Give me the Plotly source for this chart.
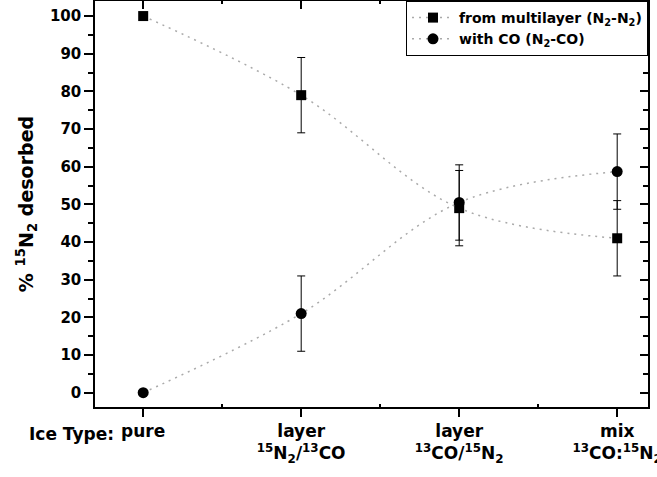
import plotly.graph_objects as go

categories = ["pure",
              "layer<br><sup>15</sup>N<sub>2</sub>/<sup>13</sup>CO",
              "layer<br><sup>13</sup>CO/<sup>15</sup>N<sub>2</sub>",
              "mix<br><sup>13</sup>CO:<sup>15</sup>N<sub>2</sub>"]
x_idx = [0, 1, 2, 3]
multilayer = [100, 79, 49, 41]
multilayer_err = [0, 10, 10, 10]
with_co = [0, 21, 50.5, 58.7]
with_co_err = [0, 10, 10, 10]

FONT = "DejaVu Sans, sans-serif"
BOLD = dict(family=FONT, color="black", weight="bold")
LINE = dict(color="#aaaaaa", width=1.5, dash="2px,5px", shape="spline")

fig = go.Figure()
fig.add_trace(go.Scatter(
    x=x_idx, y=multilayer, mode="lines+markers",
    name="from multilayer (N<sub>2</sub>-N<sub>2</sub>)",
    line=LINE,
    marker=dict(symbol="square", size=10, color="black"),
    error_y=dict(type="data", array=multilayer_err, color="black", thickness=1, width=4),
))
fig.add_trace(go.Scatter(
    x=x_idx, y=with_co, mode="lines+markers",
    name="with CO (N<sub>2</sub>-CO)",
    line=LINE,
    marker=dict(symbol="circle", size=11, color="black"),
    error_y=dict(type="data", array=with_co_err, color="black", thickness=1, width=4),
))
# invisible trace to anchor the mirror axes
fig.add_trace(go.Scatter(x=[0], y=[0], xaxis="x2", yaxis="y2", mode="markers",
                         marker=dict(opacity=0), showlegend=False, hoverinfo="skip"))

xr = [-0.305, 3.195]
yr = [-3.8, 104.0]

fig.update_layout(
    width=657, height=477,
    margin=dict(l=95, r=9, t=1, b=70, autoexpand=False),
    paper_bgcolor="white", plot_bgcolor="white",
    font=dict(family=FONT, color="black"),
    showlegend=True,
    legend=dict(x=1, xanchor="right", y=1, yanchor="top",
                bordercolor="black", borderwidth=1, bgcolor="white",
                font=dict(size=14, **BOLD),
                tracegroupgap=0, itemwidth=42),
    xaxis=dict(range=xr, tickmode="array", tickvals=x_idx, ticktext=categories,
               automargin=False,
               showgrid=False, zeroline=False, showline=True, linecolor="black", linewidth=1.5,
               ticks="outside", ticklen=8, tickwidth=1.5, tickcolor="black",
               ticklabeloverflow="allow",
               tickfont=dict(size=17, **BOLD),
               minor=dict(tickvals=[0.5, 1.5, 2.5], ticks="inside", ticklen=3,
                          tickwidth=1.5, tickcolor="black")),
    yaxis=dict(range=yr, tickmode="linear", tick0=0, dtick=10, automargin=False,
               showgrid=False, zeroline=False, showline=True, linecolor="black", linewidth=1.5,
               ticks="outside", ticklen=9, tickwidth=1.5, tickcolor="black",
               tickfont=dict(size=15, **BOLD),
               minor=dict(dtick=5, tick0=0, ticks="outside", ticklen=5, tickwidth=1.5,
                          tickcolor="black"),
               title=dict(text="% <sup>15</sup>N<sub>2</sub> desorbed",
                          font=dict(size=19, **BOLD), standoff=11)),
    xaxis2=dict(range=xr, overlaying="x", side="top", anchor="y", tickmode="array",
                automargin=False,
                tickvals=x_idx, showticklabels=False, showgrid=False, zeroline=False,
                showline=True, linecolor="black", linewidth=1.5,
                ticks="inside", ticklen=8, tickwidth=1.5, tickcolor="black",
                minor=dict(tickvals=[0.5, 1.5, 2.5], ticks="inside", ticklen=3,
                           tickwidth=1.5, tickcolor="black")),
    yaxis2=dict(range=yr, overlaying="y", side="right", anchor="x", tickmode="linear",
                automargin=False,
                tick0=0, dtick=10, showticklabels=False, showgrid=False, zeroline=False,
                showline=True, linecolor="black", linewidth=1.5,
                ticks="inside", ticklen=8, tickwidth=1.5, tickcolor="black",
                minor=dict(dtick=5, tick0=0, ticks="inside", ticklen=5, tickwidth=1.5,
                           tickcolor="black")),
    annotations=[dict(text="Ice Type:", xref="x", yref="paper", x=-0.17, y=-0.036,
                      xanchor="right", yanchor="top", showarrow=False,
                      font=dict(size=17, **BOLD))],
)

fig.write_html("out.html")
